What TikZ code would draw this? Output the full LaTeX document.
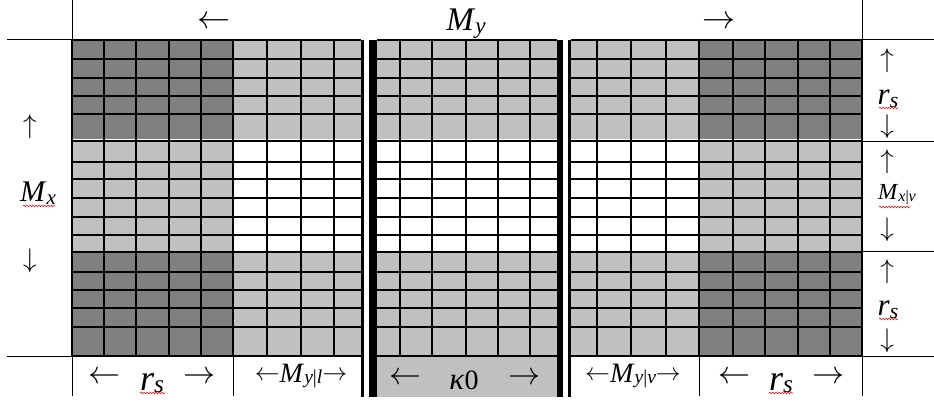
\documentclass[tikz,border=0pt]{standalone}
\usepackage{fontspec}
\setmainfont{Liberation Serif}
\usetikzlibrary{decorations.pathmorphing}
\definecolor{dk}{HTML}{808080}
\definecolor{lt}{HTML}{C0C0C0}
\tikzset{
  gridline/.style={line width=1.2pt, black},
  frameline/.style={line width=1pt, black},
  arr/.style={inner sep=0pt, anchor=center},
  txt/.style={inner sep=0pt, anchor=base, font=\fontsize{#1}{#1}\selectfont},
  wavy/.style={red, line width=0.6pt, decorate, decoration={snake, amplitude=0.7pt, segment length=3pt}},
}
\newcommand{\Sb}[1]{\raisebox{-0.07em}{\scalebox{0.7}{#1}}}
\newcommand{\La}[1]{\scalebox{#1}{$\leftarrow$}}
\newcommand{\Ra}[1]{\scalebox{#1}{$\rightarrow$}}
\newcommand{\Ua}[1]{\scalebox{#1}{$\uparrow$}}
\newcommand{\Da}[1]{\scalebox{#1}{$\downarrow$}}
\begin{document}
\begin{tikzpicture}[x=1pt,y=-1pt]
\useasboundingbox (0,0) rectangle (934,403);
% fills: top band
\fill[dk] (72,40) rectangle (233,139.5);
\fill[lt] (233,40) rectangle (361,139.5);
\fill[lt] (377,40) rectangle (557,139.5);
\fill[lt] (571,40) rectangle (699,139.5);
\fill[dk] (699,40) rectangle (862,139.5);
% middle band
\fill[lt] (72,141) rectangle (233,252);
\fill[lt] (699,141) rectangle (862,252);
% bottom band
\fill[dk] (72,252) rectangle (233,356);
\fill[lt] (233,252) rectangle (361,356);
\fill[lt] (377,252) rectangle (557,356);
\fill[lt] (571,252) rectangle (699,356);
\fill[dk] (699,252) rectangle (862,356);
% kappa box
\fill[lt] (377,356) rectangle (557,397);
% grid columns
\foreach \x in {72,104,136,169,201,233,267,301,334,400,432,466,498,530,597,631,666,699,733,765,798,830,862}
  \draw[gridline] (\x,40) -- (\x,356);
% grid rows
\foreach \y in {40,59,78,96,114,141,162,179,198,217,235,252,272,290,308,327,356}{
  \draw[gridline] (72,\y) -- (361,\y);
  \draw[gridline] (377,\y) -- (557,\y);
  \draw[gridline] (571,\y) -- (862,\y);
}
% double bars
\fill[black] (361,40) rectangle (364,397);
\fill[black] (369,40) rectangle (377,397);
\fill[black] (557,40) rectangle (563,397);
\fill[black] (568,40) rectangle (571,397);
% frame lines
\draw[frameline] (72,0) -- (72,396);
\draw[frameline] (862,0) -- (862,396);
\draw[frameline] (7,40) -- (72,40);
\draw[frameline] (862,40) -- (934,40);
\draw[frameline] (7,356) -- (72,356);
\draw[frameline] (862,356) -- (934,356);
\draw[frameline] (862,141.5) -- (934,141.5);
\draw[frameline] (862,251.5) -- (934,251.5);
\draw[frameline] (233,356) -- (233,396);
\draw[frameline] (699,356) -- (699,396);
% top labels
\node[arr] (tl) at (214,22) {\La{3.3}};
\node[txt=33] (my) at (466,31) {\textit{M}\Sb{\textit{y}}};
\node[arr] (tr) at (719,22) {\Ra{3.3}};
% left labels
\node[arr] (lu) at (30,127) {\Ua{2.7}};
\node[txt=30] (mx) at (38,202) {\textit{M}\Sb{\textit{x}}};
\node[arr] (ld) at (30,261) {\Da{2.7}};
\draw[wavy] (23,206) -- (55,206);
% right labels
\node[arr] (r1u) at (887,61) {\Ua{2.7}};
\node[txt=31] (rs1) at (888,105) {\textit{r}\Sb{\textit{s}}};
\node[arr] (r1d) at (887,127) {\Da{2.7}};
\draw[wavy] (879,108) -- (898,108);
\node[arr] (r2u) at (887,162) {\Ua{2.7}};
\node[txt=23] (mxv) at (897,200) {\textit{M}\Sb{\textit{x}|\textit{v}}};
\node[arr] (r2d) at (887,230) {\Da{2.7}};
\draw[wavy] (879,207) -- (910,207);
\node[arr] (r3u) at (887,272) {\Ua{2.7}};
\node[txt=31] (rs2) at (888,316) {\textit{r}\Sb{\textit{s}}};
\node[arr] (r3d) at (887,341) {\Da{2.7}};
\draw[wavy] (879,319) -- (898,319);
% bottom labels
\node[arr] (b1l) at (104,378) {\La{3.2}};
\node[txt=36] (rs3) at (152,390) {\textit{r}\Sb{\textit{s}}};
\node[arr] (b1r) at (199,378) {\Ra{3.2}};
\draw[wavy] (140,393) -- (165,393);
\node[txt=28] (myl) at (301,382) {\raisebox{2pt}{$\leftarrow$}\textit{M}\Sb{\textit{y}|\textit{l}}\raisebox{2pt}{$\rightarrow$}};
\node[arr] (b3l) at (405,379) {\La{3.2}};
\node[txt=28] (k0) at (464,389) {{\fontsize{31}{31}\selectfont\textit{κ}}0};
\node[arr] (b3r) at (524,379) {\Ra{3.2}};
\node[txt=28] (myv) at (633,382) {\raisebox{2pt}{$\leftarrow$}\textit{M}\Sb{\textit{y}|\textit{v}}\raisebox{2pt}{$\rightarrow$}};
\node[arr] (b5l) at (734,378) {\La{3.2}};
\node[txt=36] (rs4) at (781,390) {\textit{r}\Sb{\textit{s}}};
\node[arr] (b5r) at (828,378) {\Ra{3.2}};
\draw[wavy] (769,393) -- (793,393);
\end{tikzpicture}
\end{document}
